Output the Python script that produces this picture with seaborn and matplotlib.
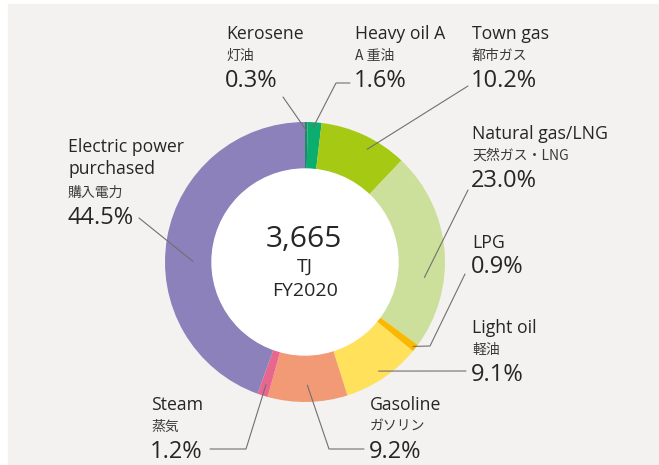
"""Energy consumption breakdown donut, FY2020."""

import numpy as np
import seaborn as sns
import matplotlib.pyplot as plt
from matplotlib.patches import Circle, Rectangle

# data
SOURCES_EN = ['Kerosene', 'Heavy oil A', 'Town gas', 'Natural gas/LNG', 'LPG',
              'Light oil', 'Gasoline', 'Steam', 'Electric power\npurchased']
SOURCES_JA = ['灯油', 'A 重油', '都市ガス', '天然ガス・LNG', '',
              '軽油', 'ガソリン', '蒸気', '購入電力']
SHARES = [0.3, 1.6, 10.2, 23.0, 0.9, 9.1, 9.2, 1.2, 44.5]
COLORS = ['#23876c', '#0bae6e', '#a6c913', '#cce09c', '#fbb800',
          '#ffe15c', '#f29a76', '#e9668f', '#8d81bb']
TOTAL = '3,665'
UNIT = 'TJ'
YEAR = 'FY2020'

W, H = 659, 465
CX, CY, R = 305, 262, 140
HOLE = 93

# label layout in pixels (top-down): text x, title y,
# leader anchor (fraction along wedge, radius) and leader path to the text
LAYOUT = {
    'Kerosene': dict(x=226, y=33, f=0.5, r=0.94, path=[(283, 97)]),
    'Heavy oil A': dict(x=355, y=33, f=0.4, r=0.96, path=[(336, 83), (350, 83)]),
    'Town gas': dict(x=472, y=33, f=0.6, r=0.92, path=[(468, 86)]),
    'Natural gas/LNG': dict(x=472, y=133, f=0.65, r=0.86, path=[(468, 190)]),
    'LPG': dict(x=472, y=242, f=0.5, r=0.98, path=[(430, 346), (465, 274)]),
    'Light oil': dict(x=472, y=327, f=0.5, r=0.94, path=[(466, 371)]),
    'Gasoline': dict(x=370, y=404, f=0.5, r=0.88, path=[(329, 449), (364, 449)]),
    'Steam': dict(x=151, y=404, f=0.5, r=0.92, path=[(246, 449), (210, 449)]),
    'Electric power\npurchased': dict(x=68, y=146, f=0.44, r=0.80,
                                      path=[(139, 218)]),
}

FONT = ['Open Sans', 'Noto Sans CJK JP', 'DejaVu Sans']
JFONT = ['Noto Sans CJK JP', 'DejaVu Sans']
INK = '#262626'


def px(x, y):
    """Pixel (top-down) to data coordinates."""
    return x, H - y


sns.set_theme(style='white')
plt.rcParams['font.family'] = FONT

fig = plt.figure(figsize=(W / 100, H / 100), dpi=100)
fig.patches.append(Rectangle((8 / W, 0), 1, 1 - 4 / H, transform=fig.transFigure,
                             color='#f3f2f0', zorder=-5))
ax = fig.add_axes([0, 0, 1, 1])
ax.patch.set_alpha(0)

wedges, _ = ax.pie(SHARES, colors=COLORS, startangle=90, counterclock=False,
                   radius=R, center=px(CX, CY),
                   wedgeprops=dict(width=R - HOLE, linewidth=0))
ax.add_patch(Circle(px(CX, CY), HOLE, color='white', zorder=3))
ax.set_xlim(0, W)
ax.set_ylim(0, H)
ax.set_aspect('equal')
ax.axis('off')

cum = np.cumsum([0] + SHARES)
for i, (name, ja, share) in enumerate(zip(SOURCES_EN, SOURCES_JA, SHARES)):
    lay = LAYOUT[name]
    x, y = lay['x'], lay['y']
    nlines = name.count('\n') + 1
    ax.text(*px(x, y - 8), name, fontsize=12.7, color=INK, va='top',
            ha='left', linespacing=1.3)
    y += 24 * (nlines - 1)
    if ja:
        y += 23
        ax.text(*px(x, y), ja, fontsize=10, color='#3a3a3a', va='center',
                ha='left', family=JFONT, fontweight='normal')
    y += 25
    ax.text(*px(x - 1, y), f'{share:.1f}%', fontsize=17, color=INK,
            va='center', ha='left')

    # leader line from a point inside the wedge
    ang = np.deg2rad((cum[i] + lay['f'] * SHARES[i]) * 3.6)
    ax0 = CX + lay['r'] * R * np.sin(ang)
    ay0 = CY - lay['r'] * R * np.cos(ang)
    pts = [(ax0, ay0)] + lay['path']
    xs, ys = zip(*[px(a, b) for a, b in pts])
    ax.plot(xs, ys, color='#707070', lw=0.8, zorder=4, clip_on=False)

ax.text(*px(CX - 1, 240), TOTAL, fontsize=21.5, ha='center', va='center',
        color=INK, zorder=5)
ax.text(*px(CX, 267), UNIT, fontsize=14, ha='center', va='center',
        color=INK, zorder=5)
ax.text(*px(CX, 291), YEAR, fontsize=14, ha='center', va='center',
        color=INK, zorder=5)

plt.savefig('out.png', dpi=100)
